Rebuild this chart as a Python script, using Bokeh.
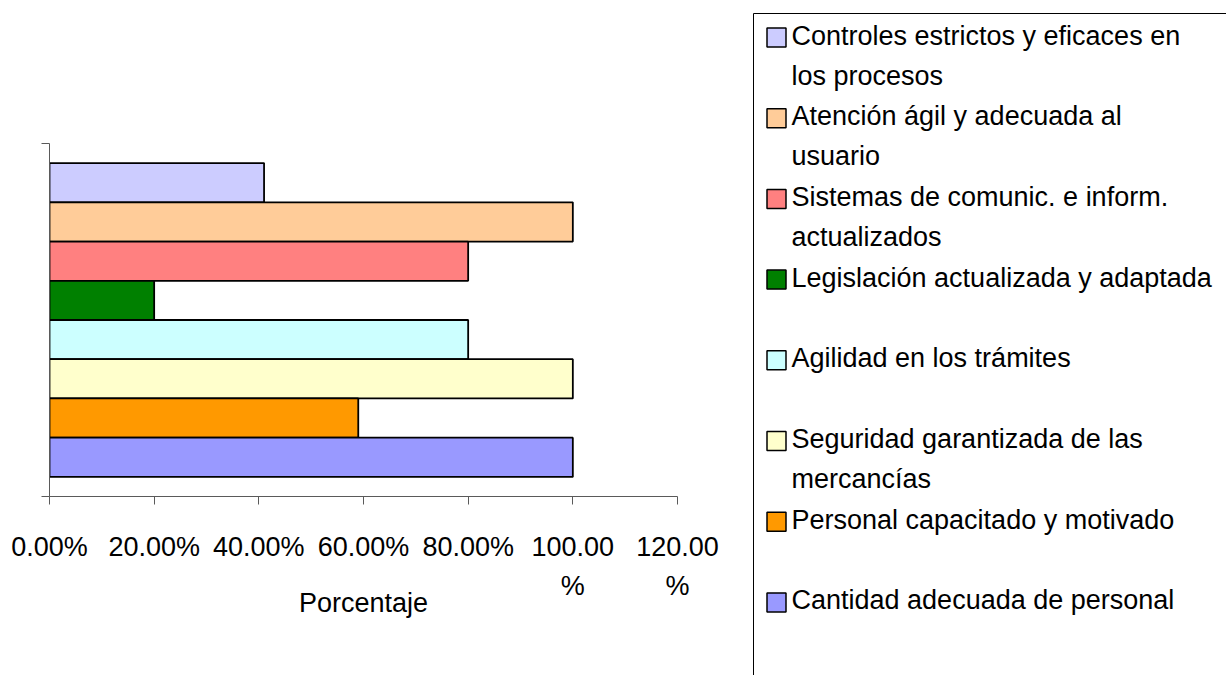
from bokeh.plotting import figure
from bokeh.layouts import row
from bokeh.models import FixedTicker, Range1d, ColumnDataSource
from bokeh.core.properties import value
from bokeh.embed import file_html
from bokeh.resources import INLINE

# ---- data (legend order, top to bottom) ----
categories = [
    "Controles estrictos y eficaces en los procesos",
    "Atención ágil y adecuada al usuario",
    "Sistemas de comunic. e inform. actualizados",
    "Legislación actualizada y adaptada",
    "Agilidad en los trámites",
    "Seguridad garantizada de las mercancías",
    "Personal capacitado y motivado",
    "Cantidad adecuada de personal",
]
legend_labels = [
    "Controles estrictos y eficaces en\nlos procesos",
    "Atención ágil y adecuada al\nusuario",
    "Sistemas de comunic. e inform.\nactualizados",
    "Legislación actualizada y adaptada",
    "Agilidad en los trámites",
    "Seguridad garantizada de las\nmercancías",
    "Personal capacitado y motivado",
    "Cantidad adecuada de personal",
]
percentages = [41, 100, 80, 20, 80, 100, 59, 100]
colors = ["#CCCCFF", "#FFCC99", "#FF8080", "#008000",
          "#CCFFFF", "#FFFFCC", "#FF9900", "#9999FF"]
x_ticks = [0, 20, 40, 60, 80, 100, 120]
x_tick_labels = ["0.00%", "20.00%", "40.00%", "60.00%", "80.00%", "100.00\n%", "120.00\n%"]
x_title = "Porcentaje"

FONT = "Liberation Sans"
H = 675
W1 = 748
W2 = 478

n = len(categories)
ypos = [n - 1 - i for i in range(n)]

# ---- chart ----
src = ColumnDataSource(dict(y=ypos, v=percentages, c=colors, name=categories))
p = figure(width=W1, height=H, output_backend="svg", toolbar_location=None,
           x_range=Range1d(0, 120), y_range=Range1d(-1.0, 8.0),
           min_border_left=49, min_border_right=W1 - 677, min_border_top=143,
           min_border_bottom=H - 496)
p.frame_align = False
p.outline_line_color = None
p.xgrid.visible = False
p.ygrid.visible = False
p.hbar(y="y", right="v", left=0, height=1.0, fill_color="c",
       line_color="black", line_width=1.8, source=src)

ax = p.xaxis[0]
ax.ticker = FixedTicker(ticks=x_ticks)
ax.major_label_overrides = {t: l for t, l in zip(x_ticks, x_tick_labels)}
ax.minor_tick_line_color = None
ax.major_tick_in = 0
ax.major_tick_out = 8
ax.axis_line_color = "#5a5a5a"
ax.major_tick_line_color = "#5a5a5a"
ax.major_label_text_font = FONT
ax.major_label_text_font_size = "27px"
ax.major_label_text_color = "black"
ax.major_label_text_line_height = 1.3
ax.major_label_standoff = 27
ax.axis_label = x_title
ax.axis_label_text_font = FONT
ax.axis_label_text_font_size = "27px"
ax.axis_label_text_font_style = "normal"
ax.axis_label_text_color = "black"
ax.axis_label_standoff = -16

ay = p.yaxis[0]
ay.ticker = FixedTicker(ticks=[-1.0, 8.0])
ay.major_label_text_font_size = "0px"
ay.major_label_text_alpha = 0
ay.minor_tick_line_color = None
ay.major_tick_in = 0
ay.major_tick_out = 8
ay.axis_line_color = "#5a5a5a"
ay.major_tick_line_color = "#5a5a5a"

# ---- legend panel ----
q = figure(width=W2, height=H, output_backend="svg", toolbar_location=None,
           x_range=Range1d(0, W2), y_range=Range1d(H, 0),
           min_border=0, min_border_left=0, min_border_right=0,
           min_border_top=0, min_border_bottom=0)
q.frame_align = False
q.axis.visible = False
q.xgrid.visible = False
q.ygrid.visible = False
q.outline_line_color = None

# legend frame (top and left sides; right/bottom run off the page)
q.line(x=[5, 5, W2 + 10], y=[H + 10, 13, 13], line_color="black", line_width=1)

step = 80.7
first_y = [35 + i * step for i in range(n)]
first_lines = [s.split("\n")[0] for s in legend_labels]
second_lines = [s.split("\n")[1] if "\n" in s else "" for s in legend_labels]

q.rect(x=[28] * n, y=[fy + 2 for fy in first_y], width=19, height=19,
       width_units="screen", height_units="screen",
       fill_color=colors, line_color="black", line_width=1.5)
q.text(x=[43] * n, y=first_y, text=first_lines, text_font=value(FONT),
       text_font_size="27px", text_baseline="middle", text_color="black")
q.text(x=[43] * n, y=[fy + 40 for fy in first_y], text=second_lines,
       text_font=value(FONT), text_font_size="27px", text_baseline="middle",
       text_color="black")

layout = row(p, q)
open("out.html", "w").write(file_html(layout, INLINE))
